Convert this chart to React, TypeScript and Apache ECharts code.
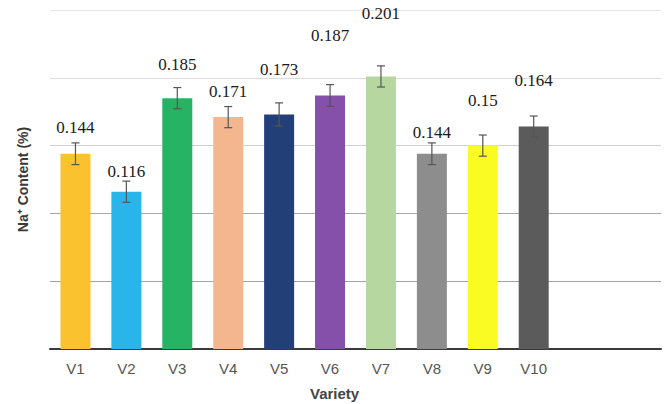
import React, { useEffect, useRef } from "react";
import * as echarts from "echarts";

const categories = ["V1", "V2", "V3", "V4", "V5", "V6", "V7", "V8", "V9", "V10"];
const values = [0.144, 0.116, 0.185, 0.171, 0.173, 0.187, 0.201, 0.144, 0.15, 0.164];
const errors = [0.008, 0.0078, 0.0078, 0.0078, 0.0085, 0.008, 0.0078, 0.008, 0.0078, 0.0078];
const labels = ["0.144", "0.116", "0.185", "0.171", "0.173", "0.187", "0.201", "0.144", "0.15", "0.164"];
const yTicks = [0, 0.05, 0.1, 0.15, 0.2, 0.25];

// styling (not data)
const colors = ["#f9c22e", "#29b5ea", "#26b464", "#f3b68e", "#233f77", "#8450a9", "#b6d8a0", "#8d8d8d", "#fbfb24", "#5b5b5b"];
const labelDistance = [18, 12, 25, 17, 36, 51, 54, 13, 37, 38];
const emptySlots = 2;

export default function App() {
  const ref = useRef<HTMLDivElement>(null);
  useEffect(() => {
    if (!ref.current) return;
    const chart = echarts.init(ref.current, undefined, { renderer: "svg" });
    const xData = [...categories, ...Array(emptySlots).fill("")];
    chart.setOption({
      animation: false,
      backgroundColor: "#ffffff",
      grid: { left: 50, right: 7, top: 10, bottom: 55, containLabel: false },
      xAxis: {
        type: "category",
        data: xData,
        axisLine: { lineStyle: { color: "#3a3a3a", width: 2 } },
        axisTick: { show: false },
        axisLabel: {
          color: "#555",
          fontFamily: "Liberation Sans",
          fontSize: 15,
          margin: 12,
          interval: 0,
        },
      },
      yAxis: {
        type: "value",
        min: yTicks[0],
        max: yTicks[yTicks.length - 1],
        interval: 0.05,
        name: "Na\u207A Content (%)",
        nameLocation: "middle",
        nameGap: 20,
        nameTextStyle: {
          fontFamily: "Liberation Sans",
          fontWeight: "bold",
          fontSize: 14,
          color: "#3a3a3a",
        },
        axisLine: { show: false },
        axisTick: { show: false },
        axisLabel: { show: false },
        splitLine: {
          lineStyle: {
            color: ["#999999", "#a2a2a2", "#a8a8a8", "#cfcfcf", "#dcdcdc", "#e6e6e6"],
            width: 1,
          },
        },
      },
      graphic: [
        {
          type: "text",
          left: 310,
          top: 386,
          style: {
            text: "Variety",
            fontFamily: "Liberation Sans",
            fontWeight: "bold",
            fontSize: 15,
            fill: "#444",
          },
        },
      ],
      series: [
        {
          type: "bar",
          barWidth: 30,
          label: {
            show: true,
            position: "top",
            fontFamily: "Times New Roman",
            fontSize: 17,
            color: "#1a1a1a",
            formatter: (p: any) => labels[p.dataIndex],
          },
          data: values.map((v, i) => ({
            value: v,
            itemStyle: { color: colors[i] },
            label: { distance: labelDistance[i], fontFamily: "Times New Roman" },
          })),
          z: 2,
        },
        {
          type: "custom",
          z: 3,
          data: values.map((v, i) => [i, v - errors[i], v + errors[i]]),
          renderItem: (params: any, api: any) => {
            const x = api.value(0);
            const lo = api.coord([x, api.value(1)]);
            const hi = api.coord([x, api.value(2)]);
            const cap = 4;
            const style = { stroke: "#555", lineWidth: 1.2 };
            return {
              type: "group",
              children: [
                { type: "line", shape: { x1: lo[0], y1: lo[1], x2: hi[0], y2: hi[1] }, style },
                { type: "line", shape: { x1: lo[0] - cap, y1: lo[1], x2: lo[0] + cap, y2: lo[1] }, style },
                { type: "line", shape: { x1: hi[0] - cap, y1: hi[1], x2: hi[0] + cap, y2: hi[1] }, style },
              ],
            };
          },
        },
      ],
    });
    return () => chart.dispose();
  }, []);
  return (
    <div
      ref={ref}
      style={{ position: "absolute", left: 0, top: 0, width: 668, height: 404 }}
    />
  );
}
